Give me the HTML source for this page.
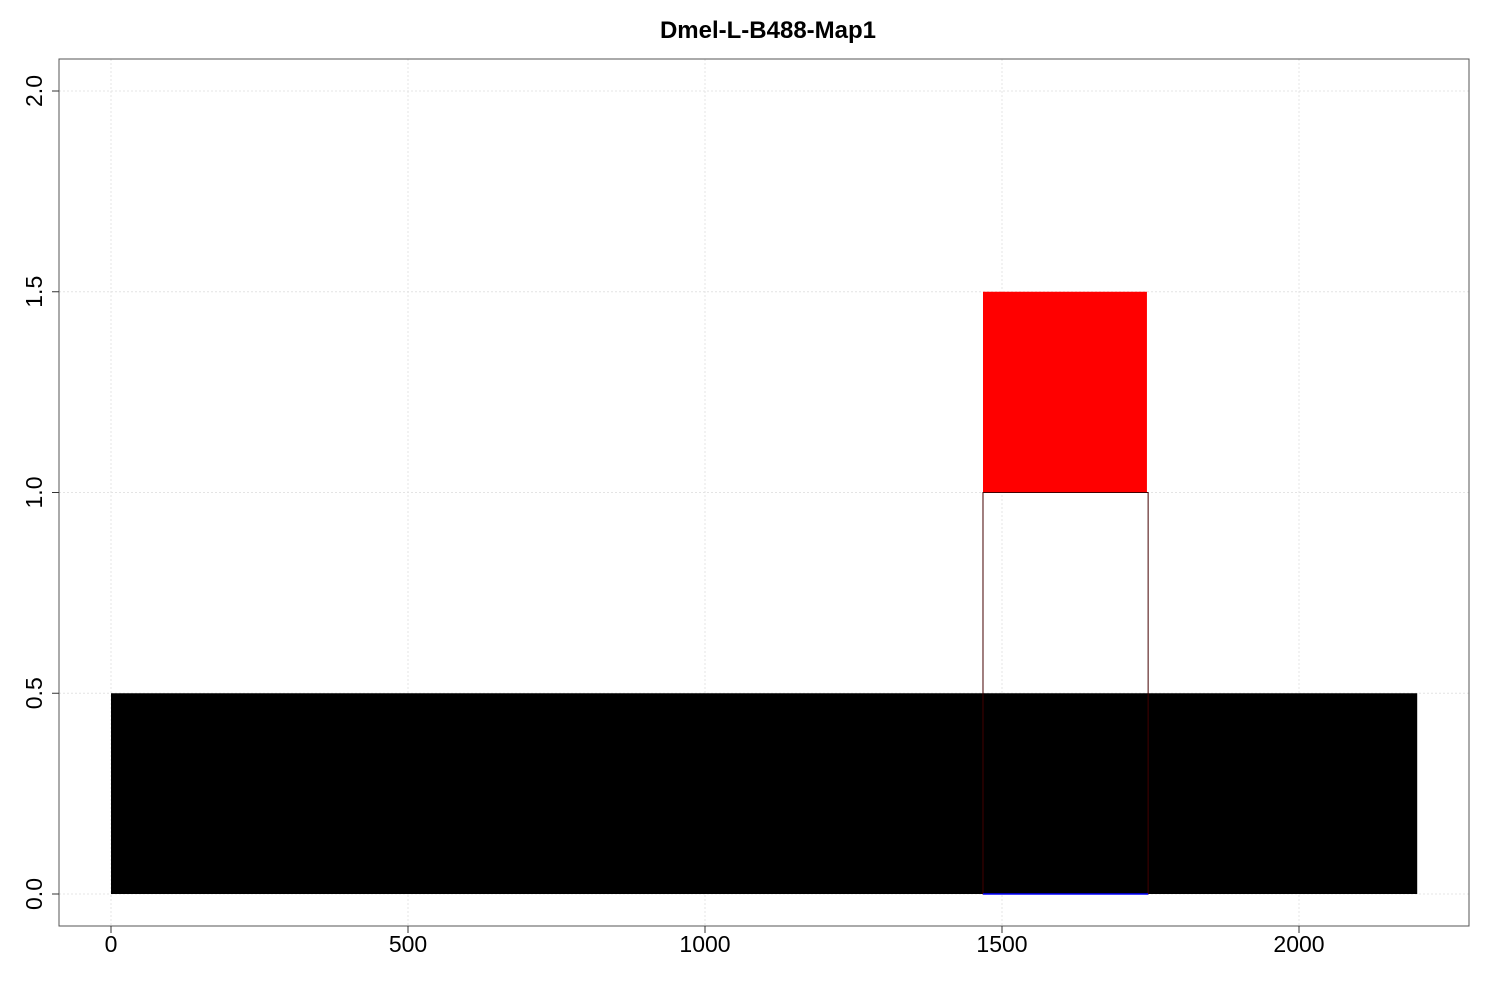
<!DOCTYPE html>
<html><head><meta charset="utf-8"><style>body{margin:0;background:#fff}svg{display:block;font-family:"Liberation Sans",sans-serif}</style></head>
<body>
<svg id="c" width="1500" height="1000">
<text x="768" y="38" text-anchor="middle" font-weight="bold" font-size="24">Dmel-L-B488-Map1</text>
</svg>
<script>
const xTicks=[0,500,1000,1500,2000];
const yTicks=[0,0.5,1,1.5,2];
const yTickLabels=["0.0","0.5","1.0","1.5","2.0"];
const blockNames=["genome-bar","red-block","outline-block"];
const blockX0=[0,1468,1468];
const blockX1=[2199,1744,1746];
const blockY0=[0,1,0];
const blockY1=[0.5,1.5,1];
const blockFill=["#000","#f00","none"];
const blockStroke=["none","none","#400"];
const blueX0=[1468], blueX1=[1746];
const X=v=>111+v*0.594, Y=v=>894-v*401.5;
const s=document.getElementById('c'),NS="http://www.w3.org/2000/svg";
function mk(t,a){const e=document.createElementNS(NS,t);for(const k in a)e.setAttribute(k,a[k]);s.appendChild(e);return e;}
xTicks.forEach(v=>{const e=mk('line',{x1:X(v),x2:X(v),y1:59,y2:926,stroke:'#e4e4e4','stroke-dasharray':'2,2'});

});
yTicks.forEach(v=>{const e=mk('line',{x1:59,x2:1469,y1:Y(v),y2:Y(v),stroke:'#e4e4e4','stroke-dasharray':'2,2'});

});
blockNames.forEach((n,i)=>{const e=mk('rect',{x:X(blockX0[i]),y:Y(blockY1[i]),width:X(blockX1[i])-X(blockX0[i]),height:Y(blockY0[i])-Y(blockY1[i]),fill:blockFill[i],stroke:blockStroke[i],'stroke-width':1});

});
blueX0.forEach((v,i)=>{const e=mk('line',{x1:X(v),x2:X(blueX1[i]),y1:Y(0),y2:Y(0),stroke:'#00f','stroke-width':1.5});

});
const f=mk('rect',{x:59,y:59,width:1410,height:867,fill:'none',stroke:'#555'});


xTicks.forEach(v=>{mk('line',{x1:X(v),x2:X(v),y1:926,y2:933,stroke:'#333'});
const t=mk('text',{x:X(v),y:952,'text-anchor':'middle','font-size':23});t.textContent=v;

});
yTicks.forEach((v,i)=>{mk('line',{x1:52,x2:59,y1:Y(v),y2:Y(v),stroke:'#333'});
const t=mk('text',{x:0,y:0,'text-anchor':'middle','font-size':23,transform:`translate(42,${Y(v)}) rotate(-90)`});t.textContent=yTickLabels[i];

});
</script>
</body></html>
